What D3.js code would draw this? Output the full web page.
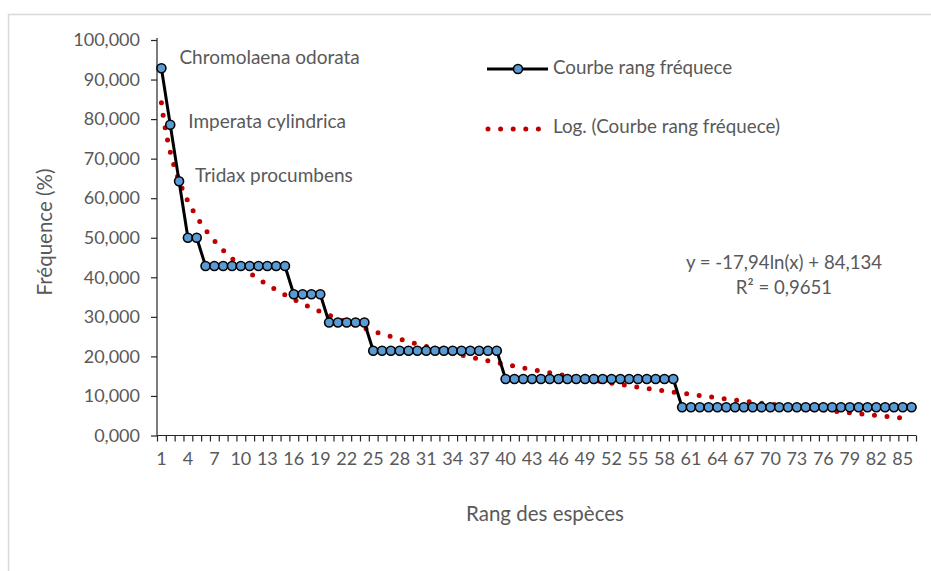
<!DOCTYPE html>
<html>
<head>
<meta charset="utf-8">
<script src="https://cdn.jsdelivr.net/npm/d3@7/dist/d3.min.js"></script>
<style>
  html, body { margin: 0; padding: 0; background: #fff; }
  svg { display: block; }
  text { font-family: Lato, "Open Sans", sans-serif; fill: #595959; }
</style>
</head>
<body>
<svg id="chart" width="931" height="571"></svg>
<script>
// ---- data ----
const ranks = d3.range(1, 87);
const frequencies = [
  92.857, 78.571, 64.286, 50.000, 50.000,
  42.857, 42.857, 42.857, 42.857, 42.857, 42.857, 42.857, 42.857, 42.857, 42.857,
  35.714, 35.714, 35.714, 35.714,
  28.571, 28.571, 28.571, 28.571, 28.571,
  21.429, 21.429, 21.429, 21.429, 21.429, 21.429, 21.429, 21.429, 21.429, 21.429,
  21.429, 21.429, 21.429, 21.429, 21.429,
  14.286, 14.286, 14.286, 14.286, 14.286, 14.286, 14.286, 14.286, 14.286, 14.286,
  14.286, 14.286, 14.286, 14.286, 14.286, 14.286, 14.286, 14.286, 14.286, 14.286,
  7.143, 7.143, 7.143, 7.143, 7.143, 7.143, 7.143, 7.143, 7.143, 7.143,
  7.143, 7.143, 7.143, 7.143, 7.143, 7.143, 7.143, 7.143, 7.143, 7.143,
  7.143, 7.143, 7.143, 7.143, 7.143, 7.143, 7.143
];
const yTicks = [0, 10, 20, 30, 40, 50, 60, 70, 80, 90, 100];
const yTickLabels = ["0,000", "10,000", "20,000", "30,000", "40,000", "50,000", "60,000", "70,000", "80,000", "90,000", "100,000"];
const xTickLabels = d3.range(1, 87, 3);
const annotations = [
  { rank: 1, text: "Chromolaena odorata" },
  { rank: 2, text: "Imperata cylindrica" },
  { rank: 3, text: "Tridax procumbens" }
];
const seriesName = "Courbe rang fréquece";
const trendName = "Log. (Courbe rang fréquece)";
const equationText = "y = -17,94ln(x) + 84,134";
const r2Text = "R² = 0,9651";
const xTitle = "Rang des espèces";
const yTitle = "Fréquence (%)";

// ---- logarithmic regression (as the spreadsheet trendline does) ----
const lx = ranks.map(r => Math.log(r));
const mx = d3.mean(lx), my = d3.mean(frequencies);
const slope = d3.sum(lx, (v, i) => (v - mx) * (frequencies[i] - my)) / d3.sum(lx, v => (v - mx) ** 2);
const intercept = my - slope * mx;

// ---- layout ----
const svg = d3.select("#chart");
const pL = 157, pR = 916, pT = 40, pB = 435.5;

svg.append("rect").attr("x", 8.5).attr("y", 14.5).attr("width", 960).attr("height", 600)
  .attr("fill", "none").attr("stroke", "#d9d9d9").attr("stroke-width", 1.5);

const x = d3.scaleBand().domain(ranks).range([pL, pR]).padding(0);
const xc = r => x(r) + x.bandwidth() / 2;
const xEdge = d3.scaleLinear().domain([0, 86]).range([pL, pR]);
const y = d3.scaleLinear().domain([0, 100]).range([pB, pT]);

// y axis
const yAxis = svg.append("g").attr("transform", `translate(${pL},0)`)
  .call(d3.axisLeft(y).tickValues(yTicks).tickSize(6).tickPadding(11)
    .tickFormat((v, i) => yTickLabels[i]));
yAxis.selectAll("text").style("font-size", "18px").attr("fill", "#595959");
yAxis.selectAll("line,path").attr("stroke", "#262626").attr("stroke-width", 1.2);
yAxis.select(".domain").attr("d", `M0,${pT - 2}V${pB}`);

// x axis tick marks between categories
const xAxisTicks = svg.append("g").attr("transform", `translate(0,${pB})`)
  .call(d3.axisBottom(xEdge).tickValues(d3.range(0, 87)).tickSize(6).tickFormat(""));
xAxisTicks.selectAll("line,path").attr("stroke", "#262626").attr("stroke-width", 1.2);
xAxisTicks.select(".domain").attr("d", `M${pL},0H${pR}`);

// x axis labels
const xAxisLabels = svg.append("g").attr("transform", `translate(0,${pB})`)
  .call(d3.axisBottom(x).tickValues(xTickLabels).tickSize(0).tickPadding(17));
xAxisLabels.select(".domain").remove();
xAxisLabels.selectAll("text").style("font-size", "18px").attr("fill", "#595959");

// trendline
const trendPts = d3.range(1, 86.001, 0.25).map(r => [r, intercept + slope * Math.log(r)]);
const xr = d3.scaleLinear().domain([1, 86]).range([xc(1), xc(86)]);
svg.append("path").datum(trendPts)
  .attr("d", d3.line().x(d => xr(d[0])).y(d => y(d[1])))
  .attr("fill", "none").attr("stroke", "#c00000").attr("stroke-width", 5)
  .attr("stroke-linecap", "round").attr("stroke-dasharray", "0 12.6");

// series line
svg.append("path").datum(frequencies)
  .attr("d", d3.line().x((d, i) => xc(ranks[i])).y(d => y(d)))
  .attr("fill", "none").attr("stroke", "#000").attr("stroke-width", 3).attr("stroke-linejoin", "round");

// markers
svg.append("g").selectAll("circle").data(frequencies).join("circle")
  .attr("cx", (d, i) => xc(ranks[i])).attr("cy", d => y(d)).attr("r", 4.5)
  .attr("fill", "#5b9bd5").attr("stroke", "#000").attr("stroke-width", 1.6);

// annotations
const annOffsets = [[18, -9], [18, -2], [16, -4]];
annotations.forEach((a, k) => {
  svg.append("text").attr("x", xc(a.rank) + annOffsets[k][0])
    .attr("y", y(frequencies[a.rank - 1]) + annOffsets[k][1])
    .attr("dominant-baseline", "middle").style("font-size", "19px").text(a.text);
});

// legend
const lg = svg.append("g");
lg.append("line").attr("x1", 487).attr("x2", 548).attr("y1", 69).attr("y2", 69)
  .attr("stroke", "#000").attr("stroke-width", 3);
lg.append("circle").attr("cx", 518).attr("cy", 69).attr("r", 4.5)
  .attr("fill", "#5b9bd5").attr("stroke", "#000").attr("stroke-width", 1.6);
lg.append("text").attr("x", 553).attr("y", 69).attr("dominant-baseline", "middle")
  .style("font-size", "18.8px").text(seriesName);
lg.append("line").attr("x1", 488).attr("x2", 543).attr("y1", 129).attr("y2", 129)
  .attr("stroke", "#c00000").attr("stroke-width", 5).attr("stroke-linecap", "round")
  .attr("stroke-dasharray", "0 12.6");
lg.append("text").attr("x", 553).attr("y", 128).attr("dominant-baseline", "middle")
  .style("font-size", "18.8px").text(trendName);

// equation
svg.append("text").attr("x", 784).attr("y", 264).attr("text-anchor", "middle")
  .attr("dominant-baseline", "middle").style("font-size", "18.6px").text(equationText);
svg.append("text").attr("x", 784).attr("y", 289).attr("text-anchor", "middle")
  .attr("dominant-baseline", "middle").style("font-size", "18.6px").text(r2Text);

// axis titles
svg.append("text").attr("x", 545).attr("y", 516).attr("text-anchor", "middle")
  .attr("dominant-baseline", "middle").style("font-size", "20.5px").text(xTitle);
svg.append("text").attr("transform", `translate(47,232) rotate(-90)`).attr("text-anchor", "middle")
  .attr("dominant-baseline", "middle").style("font-size", "20.5px").text(yTitle);
</script>
</body>
</html>
